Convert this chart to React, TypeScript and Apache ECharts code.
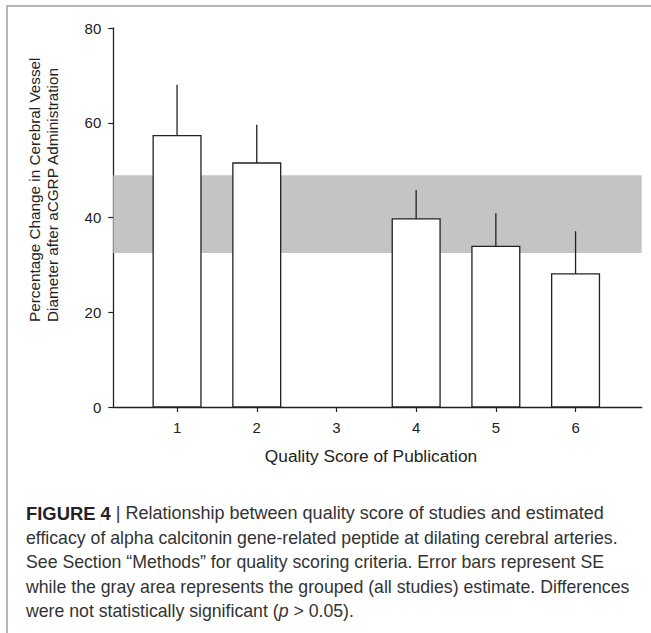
import React, { useEffect, useRef } from "react";
import * as echarts from "echarts";

const scores = [1, 2, 3, 4, 5, 6];
const means: (number | null)[] = [57.3, 51.5, null, 39.7, 33.9, 28.1];
const se: (number | null)[] = [10.7, 8.1, null, 6.1, 7.0, 9.0];
const bandLow = 32.5;
const bandHigh = 48.9;
const yTicks = [0, 20, 40, 60, 80];
const yTitle = ["Percentage Change in Cerebral Vessel", "Diameter after aCGRP Administration"];
const xTitle = "Quality Score of Publication";
const captionBold = "FIGURE 4";
const captionLines = [
  " | Relationship between quality score of studies and estimated",
  "efficacy of alpha calcitonin gene-related peptide at dilating cerebral arteries.",
  "See Section \u201cMethods\u201d for quality scoring criteria. Error bars represent SE",
  "while the gray area represents the grouped (all studies) estimate. Differences",
  "were not statistically significant (",
];

export default function App() {
  const ref = useRef<HTMLDivElement>(null);
  useEffect(() => {
    if (!ref.current) return;
    const chart = echarts.init(ref.current, undefined, { renderer: "svg" });
    const barData = scores
      .map((s, i) => (means[i] == null ? null : [s, means[i], se[i]]))
      .filter((d) => d != null) as number[][];
    const textColor = "#222";
    const capColor = "#333";
    const capFont = "Liberation Sans";
    const capSize = 17.7;
    const capLH = 24.5;
    const capTop = 514;
    const capLeft = 26;
    const captionGraphics: any[] = [];
    captionGraphics.push({
      type: "text",
      left: capLeft,
      top: capTop - 10,
      style: {
        text: "{b|" + captionBold + "}{n|" + captionLines[0] + "}",
        rich: {
          b: { fontFamily: capFont, fontSize: 18.4, fontWeight: "bold", fill: "#222" },
          n: { fontFamily: capFont, fontSize: 18.0, fill: capColor },
        },
      },
    });
    for (let i = 1; i < captionLines.length; i++) {
      const extra = i === 4 ? "{i|p}{n| > 0.05).}" : "";
      captionGraphics.push({
        type: "text",
        left: capLeft,
        top: capTop - 10 + capLH * i,
        style: {
          text: "{n|" + captionLines[i] + "}" + extra,
          rich: {
            n: { fontFamily: capFont, fontSize: capSize, fill: capColor },
            i: { fontFamily: capFont, fontSize: capSize, fill: capColor, fontStyle: "italic" },
          },
        },
      });
    }
    chart.setOption({
      animation: false,
      backgroundColor: "#fff",
      grid: { left: 113.3, right: 9.3, top: 28, bottom: 226, containLabel: false },
      xAxis: {
        type: "value",
        min: 0.2,
        max: 6.83,
        splitLine: { show: false },
        axisLine: { show: true, lineStyle: { color: textColor, width: 1.3 } },
        axisTick: { show: true, length: 5, customValues: scores, lineStyle: { color: textColor, width: 1.2 } },
        axisLabel: {
          customValues: scores,
          margin: 13,
          fontSize: 15,
          fontFamily: "Liberation Sans",
          color: textColor,
        },
      },
      yAxis: {
        type: "value",
        min: 0,
        max: 80,
        interval: 20,
        splitLine: { show: false },
        axisLine: { show: true, lineStyle: { color: textColor, width: 1.3 } },
        axisTick: { show: true, length: 5, lineStyle: { color: textColor, width: 1.2 } },
        axisLabel: {
          margin: 12,
          fontSize: 15,
          fontFamily: "Liberation Sans",
          color: textColor,
          formatter: (v: number) => (yTicks.includes(v) ? String(v) : ""),
        },
      },
      graphic: [
        {
          type: "rect",
          shape: { x: 7, y: 6, width: 700, height: 700 },
          style: { fill: "none", stroke: "#a0a0a0", lineWidth: 1.5 },
          silent: true,
        },
        {
          type: "text",
          x: 34,
          y: 322,
          rotation: Math.PI / 2,
          style: {
            text: yTitle[0],
            fontFamily: "Liberation Sans",
            fontSize: 15.3,
            fill: textColor,
            textAlign: "left",
            textVerticalAlign: "middle",
          },
        },
        {
          type: "text",
          x: 52,
          y: 322,
          rotation: Math.PI / 2,
          style: {
            text: yTitle[1],
            fontFamily: "Liberation Sans",
            fontSize: 15.3,
            fill: textColor,
            textAlign: "left",
            textVerticalAlign: "middle",
          },
        },
        {
          type: "text",
          x: 371,
          y: 456,
          style: {
            text: xTitle,
            fontFamily: "Liberation Sans",
            fontSize: 17.3,
            fill: textColor,
            textAlign: "center",
            textVerticalAlign: "middle",
          },
        },
        ...captionGraphics,
      ],
      series: [
        {
          type: "line",
          data: [],
          z: 1,
          markArea: {
            silent: true,
            itemStyle: { color: "#c4c4c4" },
            data: [[{ yAxis: bandLow }, { yAxis: bandHigh }]],
          },
        },
        {
          type: "custom",
          z: 3,
          data: barData,
          renderItem: (params: any, api: any) => {
            const x = api.value(0);
            const m = api.value(1);
            const e = api.value(2);
            const top = api.coord([x, m]);
            const base = api.coord([x, 0]);
            const errTop = api.coord([x, m + e]);
            const w = api.size([0.6, 0])[0];
            return {
              type: "group",
              children: [
                {
                  type: "rect",
                  shape: { x: top[0] - w / 2, y: top[1], width: w, height: base[1] - top[1] },
                  style: { fill: "#fff", stroke: "#222", lineWidth: 1.3 },
                },
                {
                  type: "line",
                  shape: { x1: top[0], y1: top[1], x2: errTop[0], y2: errTop[1] },
                  style: { stroke: "#222", lineWidth: 1.3 },
                },
              ],
            };
          },
        },
      ],
    });
    return () => chart.dispose();
  }, []);
  return (
    <div
      ref={ref}
      style={{ position: "absolute", left: 0, top: 0, width: 651, height: 633, background: "#fff" }}
    />
  );
}
